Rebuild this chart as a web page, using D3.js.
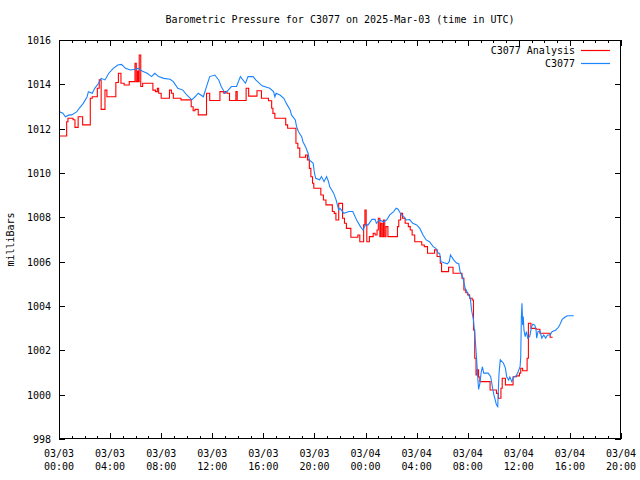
<!DOCTYPE html>
<html><head><meta charset="utf-8">
<script src="https://cdn.jsdelivr.net/npm/d3@7"></script>
<style>
html,body{margin:0;padding:0;background:#fff;}
text{font-family:"DejaVu Sans Mono","Liberation Mono",monospace;font-size:10px;fill:#000;}
</style></head>
<body>
<svg id="chart" width="640" height="480"></svg>
<script>
// Hours since 2025-03-03 00:00 UTC
const analysisHours = [0,0.6,0.7,1.1,1.25,1.5,1.85,2.45,2.6,3.0,3.15,3.3,3.6,3.75,4.45,4.65,4.85,5.1,5.5,5.95,6.05,6.15,6.2,6.28,6.4,6.55,7.35,7.55,7.7,7.8,8.0,8.65,8.8,8.95,9.55,10.35,10.5,10.65,10.9,11.55,11.8,12.6,12.9,13.0,13.15,13.35,13.85,13.95,14.65,14.85,15.5,15.85,16.4,16.65,16.75,16.9,17.75,17.9,18.55,18.7,18.85,19.3,19.45,19.6,19.72,19.85,19.95,20.5,20.7,20.9,21.4,21.55,21.68,21.9,22.2,22.35,22.5,22.85,23.4,23.55,23.85,23.95,24.05,24.1,24.3,24.6,24.75,24.9,25.0,25.12,25.2,25.3,25.4,25.5,25.6,25.75,26.5,26.6,26.75,26.9,27.1,27.35,27.5,27.65,27.85,28.4,28.6,28.85,29.4,29.6,29.85,29.95,30.5,30.85,31.55,31.7,31.85,32.0,32.15,32.35,32.45,32.55,32.65,32.75,32.85,32.95,33.75,34.25,34.4,34.6,34.7,34.95,35.55,35.8,36.05,36.15,36.3,36.65,36.75,36.95,37.35,37.65,38.45,38.65];
const analysisValues = [1011.67,1012.31,1012.47,1012.4,1012.06,1012.54,1012.17,1013.37,1013.44,1013.82,1014.2,1012.87,1013.74,1013.44,1014.08,1014.5,1014.05,1013.97,1014.12,1014.95,1014.12,1014.6,1014.12,1015.32,1013.9,1014.05,1013.74,1013.67,1013.82,1013.6,1013.37,1013.74,1013.6,1013.37,1013.3,1012.99,1012.81,1012.87,1012.62,1013.6,1013.27,1013.67,1013.6,1013.67,1013.6,1013.27,1013.67,1013.27,1013.82,1013.47,1013.71,1013.37,1013.26,1012.92,1012.69,1012.47,1012.17,1012.02,1011.34,1011.12,1010.71,1010.81,1010.59,1010.21,1009.83,1009.54,1009.31,1009.01,1008.78,1008.56,1008.26,1008.18,1007.88,1008.63,1007.96,1007.73,1007.5,1007.1,1007.2,1006.9,1007.66,1008.33,1007.66,1006.9,1007.13,1007.28,1007.2,1007.43,1007.96,1007.13,1007.73,1007.13,1007.88,1007.13,1007.58,1007.13,1007.58,1007.88,1008.18,1007.96,1007.73,1007.58,1007.43,1007.2,1006.9,1006.75,1006.68,1006.38,1006.53,1006.23,1005.93,1005.55,1005.75,1005.48,1005.25,1004.72,1004.6,1004.5,1004.35,1004.27,1002.92,1001.64,1000.89,1001.12,1000.8,1000.59,1000.21,1000.06,999.84,1000.29,1000.74,1000.44,1000.81,1000.85,1000.97,1001.19,1001.08,1001.64,1003.22,1002.99,1002.95,1002.77,1002.59,1002.59];

const obsHours = [0,0.3,0.5,0.8,1.0,1.4,1.6,1.9,2.2,2.3,2.6,2.8,3.1,3.3,3.6,3.9,4.25,4.6,4.9,5.2,5.6,5.95,6.2,6.5,6.9,7.25,7.5,7.8,8.2,8.7,8.95,9.3,9.7,10.0,10.4,10.65,10.9,11.3,11.55,11.8,12.2,12.5,12.7,13.0,13.25,13.5,13.9,14.2,14.6,14.8,15.2,15.4,15.9,16.5,16.8,16.9,17.0,17.3,17.6,17.8,18.1,18.2,18.5,18.6,18.75,19.0,19.1,19.3,19.5,19.6,19.9,20.0,20.1,20.4,20.55,20.75,20.95,21.1,21.2,21.5,21.7,21.9,22.0,22.3,22.7,23.0,23.3,23.6,23.8,24.0,24.2,24.5,24.75,24.85,25.1,25.4,25.65,25.9,26.2,26.4,26.55,26.8,27.0,27.2,27.45,27.7,28.0,28.25,28.5,28.75,29.0,29.3,29.5,29.7,29.8,29.9,30.4,30.55,30.65,30.9,31.1,31.3,31.4,31.6,31.8,32.0,32.2,32.3,32.45,32.6,32.7,32.78,32.85,32.95,33.05,33.15,33.25,33.6,33.8,33.95,34.05,34.15,34.25,34.35,34.45,34.55,34.8,34.95,35.05,35.2,35.3,35.45,35.6,35.75,35.9,36.0,36.1,36.15,36.2,36.25,36.3,36.35,36.4,36.5,36.6,36.7,36.85,37.0,37.1,37.25,37.35,37.4,37.5,37.65,37.8,37.95,38.1,38.25,38.45,38.6,38.9,39.1,39.2,39.4,39.6,39.8,40.3];
const obsValues = [1012.77,1012.7,1012.54,1012.62,1012.62,1012.77,1012.93,1013.14,1013.44,1013.67,1013.6,1013.82,1014.05,1014.27,1014.2,1014.5,1014.72,1014.87,1014.9,1014.72,1014.65,1014.68,1014.72,1014.6,1014.5,1014.35,1014.5,1014.35,1014.27,1014.23,1014.12,1013.82,1013.74,1013.52,1013.3,1013.44,1013.6,1013.44,1013.9,1014.35,1014.42,1014.2,1013.9,1013.6,1013.74,1013.9,1013.9,1014.35,1014.05,1014.35,1014.35,1014.2,1013.93,1013.82,1013.67,1013.44,1013.6,1013.52,1013.37,1013.14,1012.84,1012.62,1012.39,1012.09,1011.86,1011.64,1011.41,1011.19,1010.89,1010.59,1010.44,1009.99,1009.76,1009.69,1009.84,1009.61,1009.84,1009.61,1009.38,1009.09,1008.78,1008.33,1008.4,1008.18,1008.26,1008.26,1007.88,1007.58,1007.43,1007.66,1007.66,1007.91,1007.91,1007.73,1007.88,1007.8,1007.88,1008.11,1008.26,1008.41,1008.37,1008.11,1008.03,1007.88,1007.9,1007.73,1007.66,1007.5,1007.2,1006.98,1006.9,1006.68,1006.6,1006.38,1006.38,1006.0,1005.9,1006.0,1006.3,1006.08,1005.95,1005.9,1005.55,1005.32,1004.8,1004.57,1004.35,1003.82,1003.37,1002.39,1001.57,1000.81,1000.24,1000.5,1001.0,1001.26,1000.97,1000.97,1000.81,1000.29,999.99,999.76,999.54,999.46,1000.97,1001.57,1001.42,1001.2,1000.81,1000.66,1000.8,1000.59,1000.81,1000.81,1000.97,1001.12,1001.26,1001.71,1003.52,1004.12,1003.14,1003.52,1002.92,1002.62,1002.84,1002.55,1002.62,1003.07,1003.18,1003.14,1002.92,1002.55,1002.84,1002.87,1002.55,1002.69,1002.55,1002.69,1002.69,1002.84,1002.92,1003.04,1003.14,1003.4,1003.49,1003.56,1003.56];

const xTickHours = [0,4,8,12,16,20,24,28,32,36,40,44];
const xTickDates = ["03/03","03/03","03/03","03/03","03/03","03/03","03/04","03/04","03/04","03/04","03/04","03/04"];
const xTickTimes = ["00:00","04:00","08:00","12:00","16:00","20:00","00:00","04:00","08:00","12:00","16:00","20:00"];
const yTicks = [998,1000,1002,1004,1006,1008,1010,1012,1014,1016];
const seriesNames = ["C3077 Analysis","C3077"];
const seriesColors = ["#ff0000","#1a84ff"];
const titleText = "Barometric Pressure for C3077 on 2025-Mar-03 (time in UTC)";
const yLabel = "milliBars";

const svg = d3.select("#chart");
const L = 59, R = 621, T = 40, B = 439;
const x = d3.scaleLinear().domain([0,44]).range([L,R]);
const y = d3.scaleLinear().domain([998,1016]).range([B,T]);

// ticks
const minorHours = d3.range(0,45).filter(h => h % 4 !== 0);
const gAx = svg.append("g").attr("stroke","#000").attr("stroke-width",1).attr("shape-rendering","crispEdges");
minorHours.forEach(h => {
  const px = Math.round(x(h)) + 0.5;
  gAx.append("line").attr("x1",px).attr("x2",px).attr("y1",B).attr("y2",B-3);
  gAx.append("line").attr("x1",px).attr("x2",px).attr("y1",T).attr("y2",T+3);
});
xTickHours.forEach(h => {
  const px = Math.round(x(h)) + 0.5;
  gAx.append("line").attr("x1",px).attr("x2",px).attr("y1",B).attr("y2",B-6);
  gAx.append("line").attr("x1",px).attr("x2",px).attr("y1",T).attr("y2",T+6);
});
yTicks.forEach(v => {
  const py = Math.round(y(v)) + 0.5;
  gAx.append("line").attr("x1",L).attr("x2",L+6).attr("y1",py).attr("y2",py);
  gAx.append("line").attr("x1",R).attr("x2",R-6).attr("y1",py).attr("y2",py);
});

// labels
yTicks.forEach(v => {
  svg.append("text").attr("x",L-8).attr("y",y(v)+4).attr("text-anchor","end").text(v);
});
xTickHours.forEach((h,i) => {
  svg.append("text").attr("x",x(h)).attr("y",457).attr("text-anchor","middle").text(xTickDates[i]);
  svg.append("text").attr("x",x(h)).attr("y",470).attr("text-anchor","middle").text(xTickTimes[i]);
});
svg.append("text").attr("x",(L+R)/2).attr("y",23).attr("text-anchor","middle").text(titleText);
svg.append("text").attr("transform",`translate(14,${(T+B)/2}) rotate(-90)`).attr("text-anchor","middle").text(yLabel);

// series
svg.append("clipPath").attr("id","clip").append("rect").attr("x",L).attr("y",T).attr("width",R-L).attr("height",B-T);
const red = analysisHours.map((h,i)=>[h,analysisValues[i]]);
const blue = obsHours.map((h,i)=>[h,obsValues[i]]);
const lineStep = d3.line().x(d=>x(d[0])).y(d=>y(d[1])).curve(d3.curveStepAfter);
const lineLin = d3.line().x(d=>x(d[0])).y(d=>y(d[1]));
svg.append("path").attr("d",lineStep(red)).attr("fill","none").attr("stroke",seriesColors[0]).attr("stroke-width",1.1).attr("clip-path","url(#clip)");
svg.append("path").attr("d",lineLin(blue)).attr("fill","none").attr("stroke",seriesColors[1]).attr("stroke-width",1.1).attr("clip-path","url(#clip)");

// border
svg.append("rect").attr("x",L+0.5).attr("y",T+0.5).attr("width",R-L-1).attr("height",B-T-1).attr("fill","none").attr("stroke","#000").attr("stroke-width",1);

// legend
seriesNames.forEach((n,i) => {
  const ly = 50 + i*13;
  svg.append("text").attr("x",575).attr("y",ly+4).attr("text-anchor","end").text(n);
  svg.append("line").attr("x1",581).attr("x2",610).attr("y1",ly+0.5).attr("y2",ly+0.5).attr("stroke",seriesColors[i]).attr("stroke-width",1.2);
});
</script>
</body></html>
